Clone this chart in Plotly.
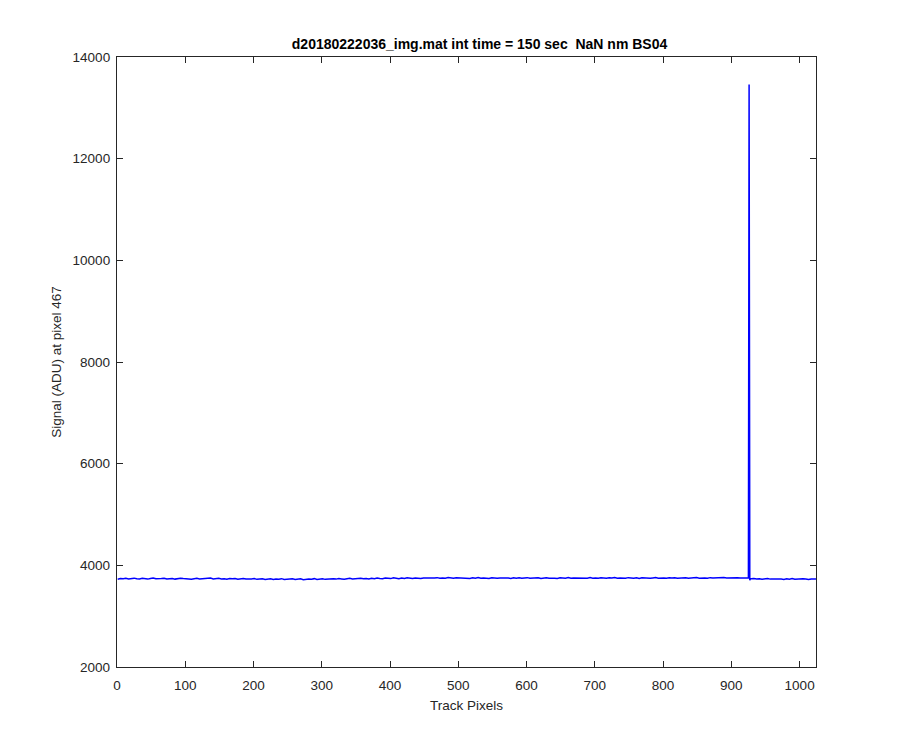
import plotly.graph_objects as go

# Baseline signal sampled every 4 track pixels (1, 5, 9, ... 1021), plus last pixel 1024
base_step = 4
base_signal = [
    3728, 3741, 3736, 3745, 3732, 3739, 3748, 3735, 3730, 3744, 3737, 3729, 3742, 3751, 3738, 3733,
    3740, 3746, 3731, 3737, 3743, 3729, 3736, 3748, 3739, 3734, 3741, 3727, 3738, 3745, 3733, 3740,
    3736, 3742, 3749, 3731, 3738, 3744, 3730, 3737, 3725, 3741, 3734, 3739, 3728, 3735, 3743, 3730,
    3726, 3733, 3739, 3724, 3731, 3737, 3722, 3729, 3735, 3720, 3733, 3728, 3738, 3723, 3730, 3726,
    3734, 3721, 3728, 3736, 3719, 3727, 3732, 3725, 3738, 3722, 3730, 3735, 3724, 3731, 3727, 3737,
    3729, 3740, 3733, 3726, 3738, 3744, 3731, 3739, 3735, 3747, 3736, 3742, 3730, 3745, 3738, 3749,
    3741, 3736, 3750, 3743, 3739, 3755, 3744, 3738, 3749, 3742, 3757, 3746, 3740, 3752, 3745, 3739,
    3751, 3747, 3756, 3743, 3750, 3758, 3745, 3753, 3748, 3760, 3749, 3744, 3755, 3751, 3746, 3757,
    3750, 3743, 3754, 3748, 3759, 3745, 3752, 3747, 3741, 3755, 3749, 3744, 3753, 3757, 3746, 3751,
    3742, 3754, 3748, 3756, 3745, 3750, 3758, 3744, 3752, 3747, 3755, 3741, 3750, 3757, 3746, 3753,
    3748, 3743, 3755, 3750, 3746, 3758, 3744, 3752, 3749, 3756, 3745, 3751, 3747, 3759, 3748, 3753,
    3746, 3757, 3751, 3744, 3755, 3749, 3760, 3747, 3753, 3750, 3745, 3758, 3752, 3748, 3756, 3743,
    3754, 3749, 3757, 3746, 3752, 3759, 3748, 3755, 3750, 3744, 3756, 3751, 3758, 3747, 3753, 3749,
    3757, 3746, 3754, 3750, 3759, 3748, 3755, 3752, 3745, 3758, 3751, 3756, 3747, 3754, 3760, 3749,
    3753, 3757, 3748, 3755, 3750, 3746, 3752, 3741, 3736, 3742, 3731, 3738, 3727, 3735, 3740, 3729,
    3733, 3725, 3737, 3730, 3722, 3734, 3728, 3739, 3726, 3731, 3724, 3736, 3729, 3721, 3733, 3727,
]
base_px = [1 + base_step * i for i in range(len(base_signal))]

# Cosmic-ray spike near pixel 926 and the final track pixel
extra_px = [924, 925, 926, 927, 928, 1024]
extra_signal = [3748, 3752, 13460, 3705, 3738, 3731]

merged = dict(zip(base_px, base_signal))
merged.update(dict(zip(extra_px, extra_signal)))
track_px = sorted(merged)
signal = [merged[p] for p in track_px]

x_ticks = list(range(0, 1001, 100))
y_ticks = list(range(2000, 14001, 2000))

title_text = "d20180222036_img.mat int time = 150 sec\u00a0\u00a0NaN nm BS04"

fig = go.Figure()
fig.add_trace(go.Scatter(x=track_px, y=signal, mode="lines",
                         line=dict(color="#0000ff", width=1.5), showlegend=False))

axis_common = dict(
    showgrid=False, zeroline=False, showline=True, linecolor="#262626", linewidth=1.3,
    mirror="ticks", ticks="inside", ticklen=6, tickwidth=1.3, tickcolor="#262626",
    automargin=False, tickformat="d",
    tickfont=dict(family="Arial, Liberation Sans, sans-serif", size=13.5, color="#262626"),
)

# page body has an 8px default margin, so the figure is 884x734
W, H = 884, 734
fig.update_layout(
    width=W, height=H,
    paper_bgcolor="white", plot_bgcolor="white",
    margin=dict(l=109, r=76, t=49, b=75, autoexpand=False),
    font=dict(family="Arial, Liberation Sans, sans-serif", color="#262626"),
    title=dict(text="<b>" + title_text + "</b>", x=(109 + 699 / 2) / W, xanchor="center",
               xref="paper", automargin=False,
               y=1 - 36 / H, yanchor="middle",
               font=dict(size=14, color="#000000")),
    xaxis=dict(axis_common, range=[0, 1024], tickvals=x_ticks,
               ticklabelstandoff=6,
               title=dict(text="Track Pixels", standoff=8,
                          font=dict(size=13.5, color="#262626"))),
    yaxis=dict(axis_common, range=[2000, 14000], tickvals=y_ticks,
               ticklabelstandoff=3,
               title=dict(text="Signal (ADU) at pixel 467", standoff=7,
                          font=dict(size=13.5, color="#262626"))),
)

fig.write_html("out.html")
